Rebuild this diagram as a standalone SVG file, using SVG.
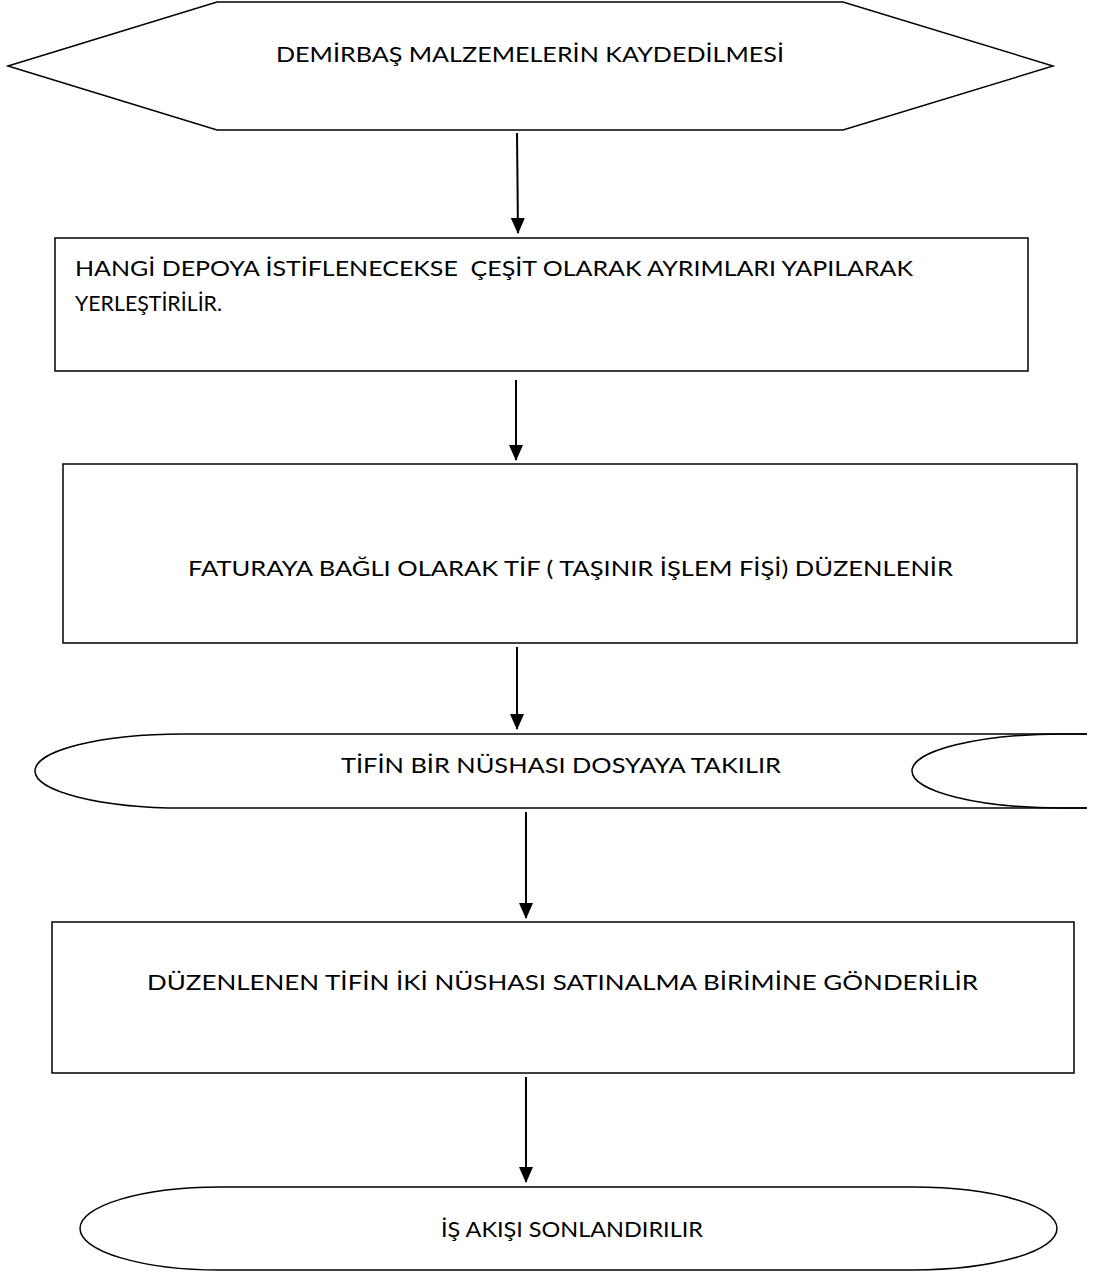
<svg xmlns="http://www.w3.org/2000/svg" width="1097" height="1272" viewBox="0 0 1097 1272">
<style>
.s{fill:#fff;stroke:#000;stroke-width:1.5}
.o{fill:none;stroke:#000;stroke-width:1.5}
.t{font-family:Lato,"Open Sans","Liberation Sans",sans-serif;font-size:21px;fill:#000}
.c{stroke:#000;stroke-width:2;fill:none}
</style>
<defs>
<marker id="a" markerWidth="16" markerHeight="14" refX="15" refY="7" orient="auto" markerUnits="userSpaceOnUse" viewBox="0 0 16 14">
<path d="M0,0 L16,7 L0,14 Z" fill="#000"/>
</marker>
</defs>
<g id="n1">
<polygon class="s" points="8,66 217,2 843,2 1053,66 843,130 217,130"/>
<text class="t" x="276" y="62" textLength="508" lengthAdjust="spacingAndGlyphs">DEMİRBAŞ MALZEMELERİN KAYDEDİLMESİ</text>
</g>
<g id="n2">
<rect class="s" x="55" y="238" width="973" height="133"/>
<text class="t" x="75" y="276" textLength="838" lengthAdjust="spacingAndGlyphs" xml:space="preserve">HANGİ DEPOYA İSTİFLENECEKSE  ÇEŞİT OLARAK AYRIMLARI YAPILARAK</text>
<text class="t" x="75" y="311" textLength="147" lengthAdjust="spacingAndGlyphs">YERLEŞTİRİLİR.</text>
</g>
<g id="n3">
<rect class="s" x="63" y="464" width="1014" height="179"/>
<text class="t" x="188" y="576" textLength="765" lengthAdjust="spacingAndGlyphs">FATURAYA BAĞLI OLARAK TİF ( TAŞINIR İŞLEM FİŞİ) DÜZENLENİR</text>
</g>
<g id="n4">
<path class="s" d="M1087,734 L183,734 A148,37 0 0 0 183,808 L1087,808"/>
<path class="o" d="M1087,734 L1062,734 A150,37 0 0 0 1062,808 L1087,808"/>
<text class="t" x="341" y="773" textLength="440" lengthAdjust="spacingAndGlyphs">TİFİN BİR NÜSHASI DOSYAYA TAKILIR</text>
</g>
<g id="n5">
<rect class="s" x="52" y="922" width="1022" height="151"/>
<text class="t" x="147" y="990" textLength="831" lengthAdjust="spacingAndGlyphs">DÜZENLENEN TİFİN İKİ NÜSHASI SATINALMA BİRİMİNE GÖNDERİLİR</text>
</g>
<g id="n6">
<path class="s" d="M220,1187 L913,1187 A144,41.5 0 0 1 913,1270 L220,1270 A140,41.5 0 0 1 220,1187 Z"/>
<text class="t" x="441" y="1237" textLength="262" lengthAdjust="spacingAndGlyphs">İŞ AKIŞI SONLANDIRILIR</text>
</g>
<g id="connectors">
<line class="c" x1="517" y1="133" x2="518" y2="233" marker-end="url(#a)"/>
<line class="c" x1="516" y1="380" x2="516" y2="460" marker-end="url(#a)"/>
<line class="c" x1="517" y1="647" x2="517" y2="729" marker-end="url(#a)"/>
<line class="c" x1="526" y1="812" x2="526" y2="918" marker-end="url(#a)"/>
<line class="c" x1="526" y1="1077" x2="526" y2="1182" marker-end="url(#a)"/>
</g>
</svg>
